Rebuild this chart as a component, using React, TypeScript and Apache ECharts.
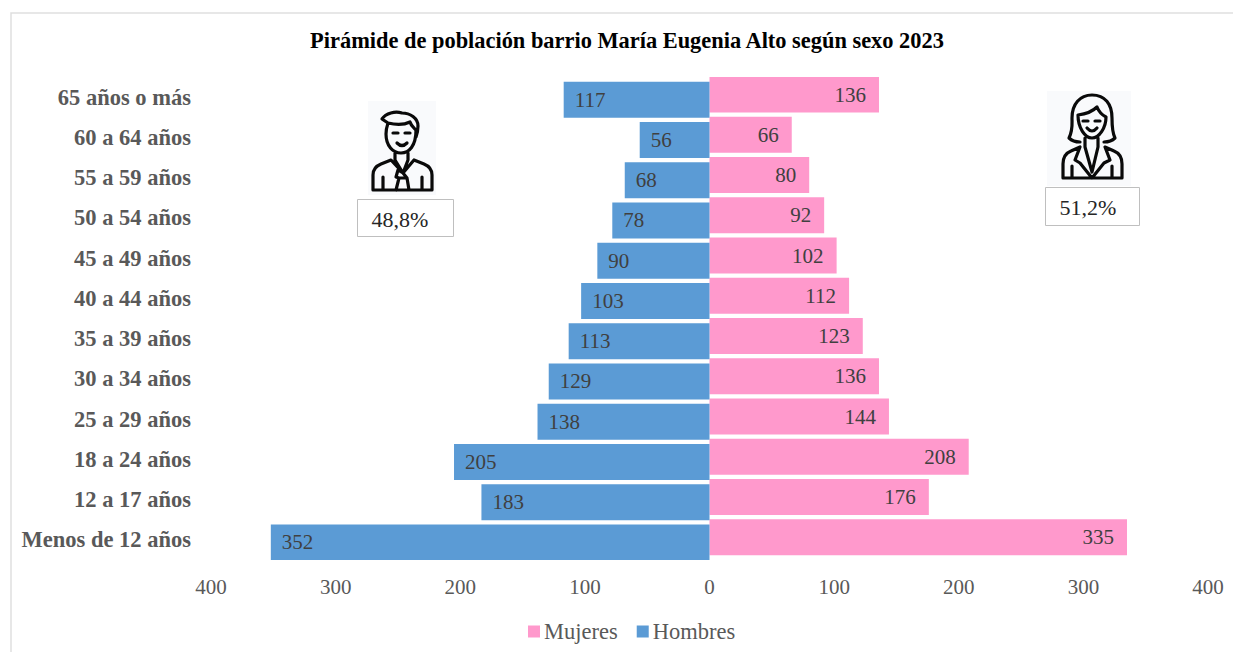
import React, { useEffect, useRef } from "react";
import * as echarts from "echarts";

const categories = ["Menos de 12 años","12 a 17 años","18 a 24 años","25 a 29 años","30 a 34 años","35 a 39 años","40 a 44 años","45 a 49 años","50 a 54 años","55 a 59 años","60 a 64 años","65 años o más"];
const hombres = [352,183,205,138,129,113,103,90,78,68,56,117];
const mujeres = [335,176,208,144,136,123,112,102,92,80,66,136];
const titleText = "Pirámide de población barrio María Eugenia Alto según sexo 2023";
const shareHombres = "48,8%";
const shareMujeres = "51,2%";

const FONT = "'Liberation Serif', serif";

const manIcon =
  "M382 119 C386 113 395 111 402 113 C410 113 418 118 418 126 C418 131 417 134 416 137 " +
  "M382 119 L388 123 C387 126 386 130 386 134 M388 123 C396 125 404 125 410 122 C411 126 414 128 416 130 " +
  "M386 134 C386 146 393 153 401 153 C409 153 416 146 416 130 " +
  "M393 133 L398 133 M405 133 L410 133 M397 143 Q402 148 407 143 " +
  "M395 153 L395 160 M408 153 L408 160 " +
  "M373 190 L373 175 C373 169 376 166 381 164 L391 160 L403 173 L414 160 L424 164 C429 166 432 169 432 175 L432 190 Z " +
  "M395 160 L403 173 L398 170 L396 177 L399 178 L396 190 M408 160 L403 173 L407 178 L409 190 M399 178 L407 178 " +
  "M383 177 L383 190 M422 177 L422 190";

const womanIcon =
  "M1080 142 C1074 142 1071 140 1069 138 C1073 130 1072 124 1072 118 C1072 104 1080 95 1092 95 C1105 95 1112 104 1112 118 C1112 124 1112 132 1115 138 C1112 141 1109 142 1104 142 " +
  "M1078 115 C1086 114 1093 111 1097 107 C1099 112 1102 115 1106 117 " +
  "M1078 115 C1078 128 1085 138 1092 138 C1099 138 1106 128 1106 117 " +
  "M1083 121 L1088 121 M1095 121 L1100 121 M1087 128 Q1092 134 1097 128 " +
  "M1085 138 L1085 147 M1098 138 L1098 147 " +
  "M1063 178 L1063 164 C1063 157 1066 153 1071 151 L1080 147 L1075 160 L1080 163 L1092 178 L1104 163 L1110 160 L1105 147 L1114 151 C1119 153 1122 157 1122 164 L1122 178 Z " +
  "M1085 147 L1092 172 L1098 147 " +
  "M1072 166 L1072 178 M1112 166 L1112 178";

echarts.graphic.registerShape("manIcon", echarts.graphic.extendPath(manIcon, {}));
echarts.graphic.registerShape("womanIcon", echarts.graphic.extendPath(womanIcon, {}));

export default function App() {
  const ref = useRef<HTMLDivElement>(null);
  useEffect(() => {
    document.body.style.margin = "0";
    document.body.style.overflow = "hidden";
    const chart = echarts.init(ref.current!, null, { renderer: "svg" });
    const box = (x: number, y: number, w: number, h: number) => ({
      type: "rect", x, y, shape: { x: 0, y: 0, width: w, height: h },
      style: { fill: "#fff", stroke: "#bfbfbf", lineWidth: 1 }, z: 10,
    });
    const boxText = (x: number, y: number, text: string) => ({
      type: "text", x, y, z: 11,
      style: { text, fontFamily: FONT, fontSize: 22, fill: "#262626", align: "center", verticalAlign: "middle" },
    });
    const iconBg = (x: number, y: number, w: number, h: number) => ({
      type: "rect", x, y, shape: { x: 0, y: 0, width: w, height: h }, style: { fill: "#f9fafc" }, z: 9,
    });
    const icon = (type: string) => ({
      type, x: 0, y: 0, z: 10,
      style: { fill: "none", stroke: "#0a0a0a", lineWidth: 3.2, lineJoin: "round", lineCap: "round" },
    });
    chart.setOption({
      animation: false,
      backgroundColor: "#fff",
      title: {
        text: titleText, left: 622, top: 24, textAlign: "center",
        textStyle: { fontFamily: FONT, fontWeight: "bold", fontSize: 22.4, color: "#000" },
      },
      legend: {
        data: ["Mujeres", "Hombres"], left: 523, top: 615, itemWidth: 12, itemHeight: 12, itemGap: 19,
        icon: "rect",
        textStyle: { fontFamily: FONT, fontSize: 22.5, color: "#595959", padding: [0, 0, 0, -1] },
      },
      grid: { left: 211, right: 25, top: 77, bottom: 92 },
      xAxis: {
        type: "value", min: -400, max: 400, interval: 100,
        axisLine: { show: false }, axisTick: { show: false }, splitLine: { show: false },
        axisLabel: {
          fontFamily: FONT, fontSize: 21, color: "#595959", margin: 16,
          formatter: (v: number) => String(Math.abs(v)),
        },
      },
      yAxis: {
        type: "category", data: categories,
        axisLine: { show: false, onZero: false }, axisTick: { show: false },
        axisLabel: { fontFamily: FONT, fontSize: 22.5, fontWeight: "bold", color: "#595959", margin: 20 },
      },
      series: [
        {
          name: "Mujeres", type: "bar", data: mujeres, barWidth: 36, barGap: "-86%",
          itemStyle: { color: "#FF99CC" },
          label: { show: true, position: "insideRight", distance: 13, fontFamily: FONT, fontSize: 21, color: "#404040" },
        },
        {
          name: "Hombres", type: "bar", data: hombres.map((v) => -v), barWidth: 36,
          itemStyle: { color: "#5B9BD5" },
          label: {
            show: true, position: "insideLeft", distance: 11, fontFamily: FONT, fontSize: 21, color: "#404040",
            formatter: (p: any) => String(Math.abs(p.value)),
          },
        },
      ],
      graphic: [
        { type: "rect", x: 11, y: 13, shape: { x: 0, y: 0, width: 1400, height: 800 }, style: { fill: "none", stroke: "#dfdfdf", lineWidth: 1.5 }, z: -1 },
        iconBg(368, 101, 68, 94),
        iconBg(1047, 91, 84, 95),
        icon("manIcon"),
        icon("womanIcon"),
        box(357.5, 199.5, 96, 37),
        box(1045.5, 187.5, 94, 38),
        boxText(400, 219, shareHombres),
        boxText(1088, 207, shareMujeres),
      ],
    });
    return () => chart.dispose();
  }, []);
  return <div ref={ref} style={{ width: 1233, height: 652 }} />;
}
